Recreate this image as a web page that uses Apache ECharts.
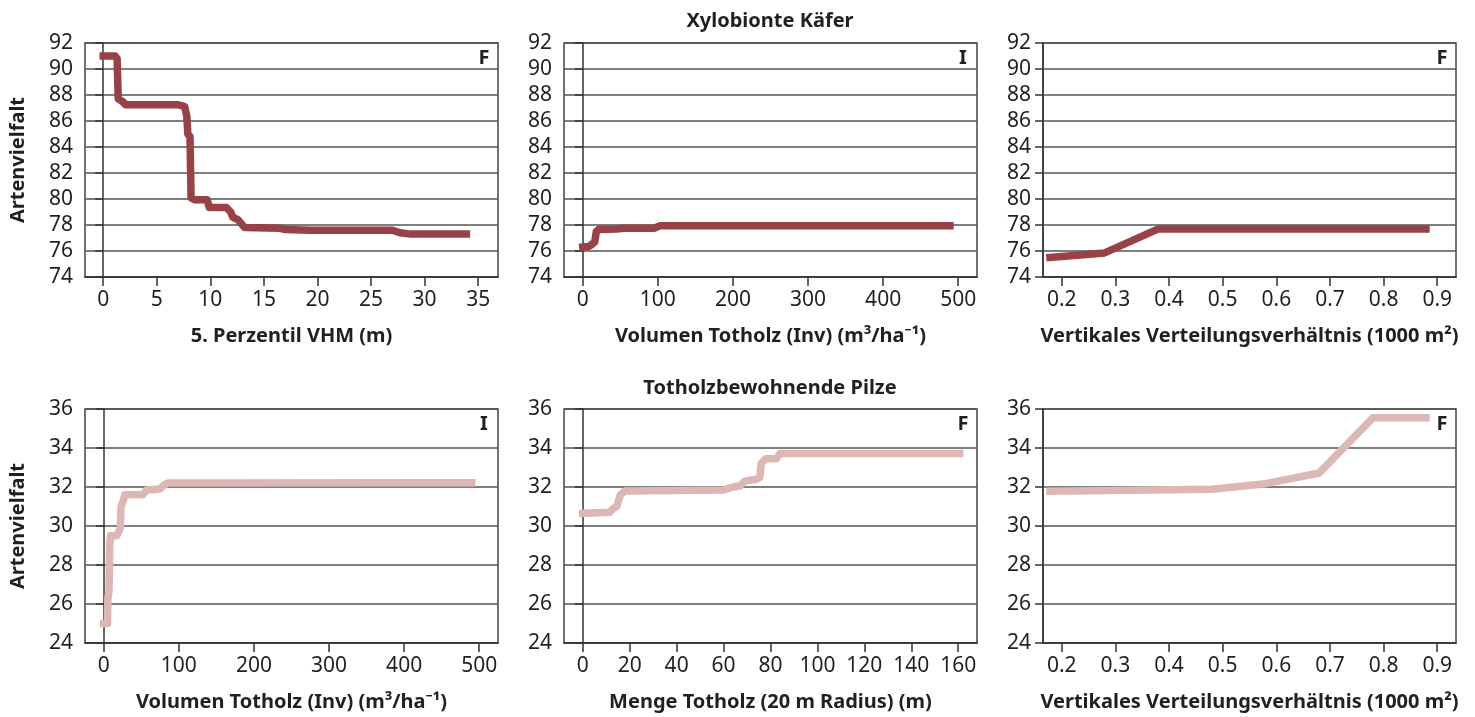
<!DOCTYPE html>
<html>
<head>
<meta charset="utf-8">
<script src="https://cdn.jsdelivr.net/npm/echarts@6/dist/echarts.min.js"></script>
<style>
html,body{margin:0;padding:0;background:#fff;}
#c{width:1475px;height:717px;}
</style>
</head>
<body>
<div id="c"></div>
<script>
// ---- Data ----
const rowTitles = ['Xylobionte Käfer', 'Totholzbewohnende Pilze'];
const yAxisName = 'Artenvielfalt';

const xNames = [
  '5. Perzentil VHM (m)',
  'Volumen Totholz (Inv) (m³/ha⁻¹)',
  'Vertikales Verteilungsverhältnis (1000 m²)',
  'Volumen Totholz (Inv) (m³/ha⁻¹)',
  'Menge Totholz (20 m Radius) (m)',
  'Vertikales Verteilungsverhältnis (1000 m²)'
];
const panelTags = ['F', 'I', 'F', 'I', 'F', 'F'];

const xTicks1 = [0, 5, 10, 15, 20, 25, 30, 35];
const xTicks2 = [0, 100, 200, 300, 400, 500];
const xTicks3 = [0.2, 0.3, 0.4, 0.5, 0.6, 0.7, 0.8, 0.9];
const xTicks4 = [0, 100, 200, 300, 400, 500];
const xTicks5 = [0, 20, 40, 60, 80, 100, 120, 140, 160];
const xTicks6 = [0.2, 0.3, 0.4, 0.5, 0.6, 0.7, 0.8, 0.9];

const xRange1 = [-1.7, 36.85];
const xRange2 = [-25, 525];
const xRange3 = [0.165, 0.935];
const xRange4 = [-25, 525];
const xRange5 = [-8, 168];
const xRange6 = [0.165, 0.935];

const yTop = [74, 92];
const yBottom = [24, 36];

// Xylobionte Käfer
const kaeferVHM = [
  [0, 91.0], [1.1, 91.0], [1.3, 90.8], [1.4, 87.7], [1.8, 87.5], [2.1, 87.25],
  [7.0, 87.25], [7.6, 87.1], [7.8, 86.4], [7.9, 85.0], [8.1, 84.8], [8.2, 80.1],
  [8.5, 79.95], [9.7, 79.95], [9.9, 79.35], [11.5, 79.35], [11.9, 79.0],
  [12.1, 78.6], [12.6, 78.4], [13.2, 77.8], [16.5, 77.75], [17.0, 77.65],
  [19.3, 77.6], [27.0, 77.6], [27.7, 77.4], [28.7, 77.3], [33.9, 77.3]
];
const kaeferVolumen = [
  [0, 76.3], [8, 76.35], [12, 76.5], [16, 76.7], [18, 77.5], [21, 77.65],
  [45, 77.7], [55, 77.75], [95, 77.75], [103, 77.95], [489, 77.95]
];
const kaeferVertikal = [
  [0.178, 75.5], [0.28, 75.85], [0.38, 77.7], [0.879, 77.7]
];

// Totholzbewohnende Pilze
const pilzeVolumen = [
  [0, 25.0], [5, 25.0], [5.5, 26.3], [7, 26.7], [8, 29.0], [9, 29.5], [17, 29.5],
  [20, 29.7], [22, 29.9], [23, 31.0], [26, 31.3], [28, 31.6], [52, 31.6],
  [57, 31.85], [75, 31.9], [80, 32.1], [85, 32.2], [490, 32.22]
];
const pilzeMenge = [
  [0, 30.65], [11.5, 30.7], [13, 30.9], [14.5, 31.0], [16, 31.6], [18, 31.8],
  [40, 31.82], [60, 31.85], [64, 32.0], [67, 32.05], [69, 32.3], [74, 32.4],
  [75.5, 32.5], [76, 33.2], [78, 33.45], [82.5, 33.45], [84, 33.72], [160.6, 33.72]
];
const pilzeVertikal = [
  [0.178, 31.78], [0.48, 31.88], [0.58, 32.17], [0.68, 32.72], [0.78, 35.55], [0.879, 35.55]
];

// ---- Layout / style ----
const FONT = 'Noto Sans';
const TXT = '#231f20';
const GRIDC = '#555';
const colTop = '#984146';
const colBottom = '#dcb7b3';

const lefts = [85, 564, 1043];
const tops = [43, 409];
const W = 413, H = 234;

const xTicksAll = [xTicks1, xTicks2, xTicks3, xTicks4, xTicks5, xTicks6];
const xRanges = [xRange1, xRange2, xRange3, xRange4, xRange5, xRange6];
const seriesData = [kaeferVHM, kaeferVolumen, kaeferVertikal, pilzeVolumen, pilzeMenge, pilzeVertikal];

const grids = [], xAxes = [], yAxes = [], series = [], graphics = [];

for (let i = 0; i < 6; i++) {
  const r = Math.floor(i / 3), c = i % 3;
  grids.push({
    left: lefts[c], top: tops[r], width: W, height: H,
    show: true, borderColor: '#444', borderWidth: 1.5, backgroundColor: 'transparent'
  });
  const isDec = (i === 2 || i === 5);
  xAxes.push({
    type: 'value', gridIndex: i,
    min: xRanges[i][0], max: xRanges[i][1],
    name: xNames[i], nameLocation: 'middle', nameGap: 49,
    nameTextStyle: { fontFamily: FONT, fontWeight: 'bold', fontSize: 20, color: TXT },
    axisLine: { show: true, onZero: false, lineStyle: { color: '#333', width: 1.5 } },
    axisTick: { show: true, customValues: xTicksAll[i], length: 9, lineStyle: { color: '#333', width: 1.5 } },
    axisLabel: {
      customValues: xTicksAll[i], margin: 13,
      fontFamily: FONT, fontSize: 21, color: TXT,
      formatter: v => isDec ? v.toFixed(1) : String(Math.round(v))
    },
    splitLine: { show: false }
  });
  const yr = r === 0 ? yTop : yBottom;
  yAxes.push({
    type: 'value', gridIndex: i, min: yr[0], max: yr[1], interval: 2,
    name: c === 0 ? yAxisName : '', nameLocation: 'middle', nameGap: 57,
    nameTextStyle: { fontFamily: FONT, fontWeight: 'bold', fontSize: 20, color: TXT },
    axisLine: { show: true, lineStyle: { color: '#333', width: 1.5 } },
    axisTick: { show: true, length: 8, lineStyle: { color: '#333', width: 1.5 } },
    axisLabel: { margin: 12, fontFamily: FONT, fontSize: 21, color: TXT },
    splitLine: { show: true, lineStyle: { color: GRIDC, width: 1.5 } }
  });
  series.push({
    type: 'line', xAxisIndex: i, yAxisIndex: i,
    data: seriesData[i], symbol: 'none', smooth: false,
    lineStyle: { color: r === 0 ? colTop : colBottom, width: 7.5, cap: 'square', join: 'round' },
    emphasis: { disabled: true }, silent: true, animation: false
  });
  graphics.push({
    type: 'text', x: lefts[c] + W - 14, y: tops[r] + 15,
    style: { text: panelTags[i], fontFamily: FONT, fontWeight: 'bold', fontSize: 20, fill: TXT,
             align: 'center', verticalAlign: 'middle' }
  });
}

graphics.push({
  type: 'text', x: 770, y: 21,
  style: { text: rowTitles[0], fontFamily: FONT, fontWeight: 'bold', fontSize: 20, fill: TXT, align: 'center', verticalAlign: 'middle' }
});
graphics.push({
  type: 'text', x: 770, y: 388,
  style: { text: rowTitles[1], fontFamily: FONT, fontWeight: 'bold', fontSize: 20, fill: TXT, align: 'center', verticalAlign: 'middle' }
});

const chart = echarts.init(document.getElementById('c'), null, { renderer: 'canvas' });
chart.setOption({
  animation: false,
  backgroundColor: '#fff',
  grid: grids, xAxis: xAxes, yAxis: yAxes, series: series,
  graphic: graphics
});
</script>
</body>
</html>
